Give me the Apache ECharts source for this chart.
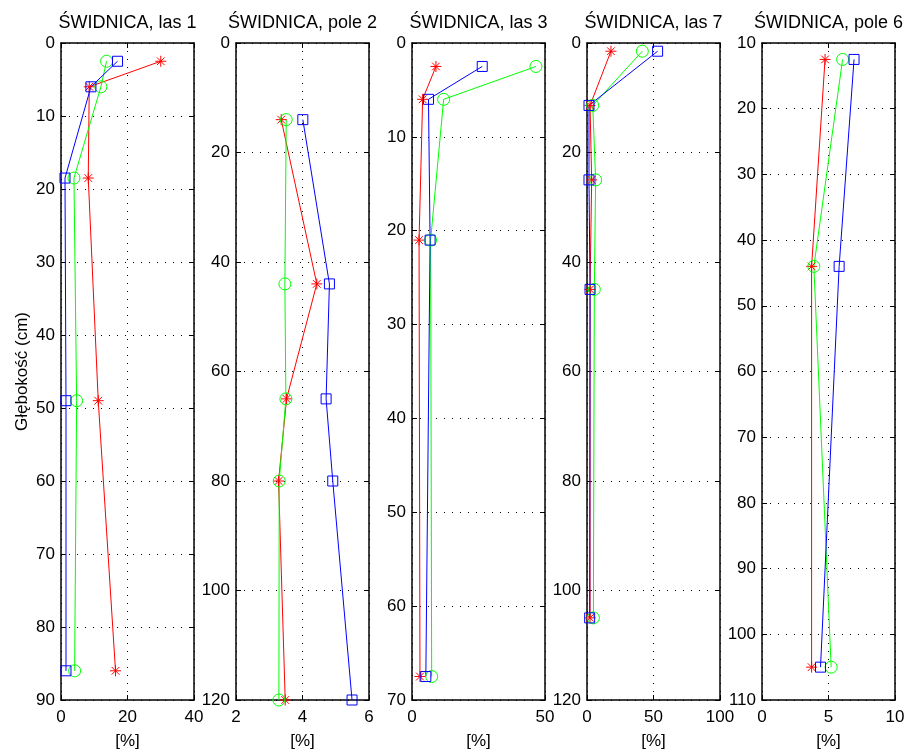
<!DOCTYPE html>
<html>
<head>
<meta charset="utf-8">
<title>Świdnica</title>
<script src="https://cdn.jsdelivr.net/npm/echarts@6/dist/echarts.min.js"></script>
<style>
  html, body { margin: 0; padding: 0; background: #fff; }
  #chart { width: 907px; height: 751px; }
</style>
</head>
<body>
<div id="chart"></div>
<script>
  // panel titles and depth (cm) of each sample
  var titles = ["ŚWIDNICA, las 1", "ŚWIDNICA, pole 2", "ŚWIDNICA, las 3", "ŚWIDNICA, las 7", "ŚWIDNICA, pole 6"];

  var depths1 = [2.5, 6, 18.5, 49, 86];
  var las1Red = [30, 8.5, 8.2, 11.2, 16.4];
  var las1Green = [13.7, 12.0, 3.9, 4.7, 4.1];
  var las1Blue = [17.0, 9.0, 1.2, 1.5, 1.5];

  var depths2 = [14, 44, 65, 80, 120];
  var pole2Red = [3.36, 4.43, 3.52, 3.28, 3.48];
  var pole2Green = [3.51, 3.47, 3.5, 3.3, 3.29];
  var pole2Blue = [4.01, 4.81, 4.71, 4.91, 5.49];

  var depths3 = [2.5, 6, 21, 67.5];
  var las3Red = [9.0, 4.0, 2.65, 3.0];
  var las3Green = [46.6, 11.9, 7.0, 7.4];
  var las3Blue = [26.4, 6.2, 6.8, 5.2];

  var depths4 = [1.5, 11.4, 25, 45, 105];
  var las7Red = [18, 2.3, 3.5, 2.3, 2.3];
  var las7Green = [41.6, 4.3, 6.5, 5.5, 4.8];
  var las7Blue = [53.1, 1.5, 1.5, 2.3, 2.0];

  var depths5 = [12.5, 44, 105];
  var pole6Red = [4.74, 3.73, 3.73];
  var pole6Green = [6.06, 3.9, 5.2];
  var pole6Blue = [6.92, 5.8, 4.4];

  // axis ranges per panel: [xMin, xMax, xStep, yMin, yMax, yStep]
  var ranges = [
    [0, 40, 20, 0, 90, 10],
    [2, 6, 2, 0, 120, 20],
    [0, 50, 50, 0, 70, 10],
    [0, 100, 50, 0, 120, 20],
    [0, 10, 5, 10, 110, 10]
  ];

  var panels = [
    { d: depths1, r: las1Red, g: las1Green, b: las1Blue },
    { d: depths2, r: pole2Red, g: pole2Green, b: pole2Blue },
    { d: depths3, r: las3Red, g: las3Green, b: las3Blue },
    { d: depths4, r: las7Red, g: las7Green, b: las7Blue },
    { d: depths5, r: pole6Red, g: pole6Green, b: pole6Blue }
  ];

  var lefts = [61, 236, 412, 587, 762];
  var plotW = 133, plotTop = 43, plotH = 657;
  var font = "Liberation Sans";
  var asterisk = "path://M0,-1L0,1M-1,0L1,0M-0.7,-0.7L0.7,0.7M-0.7,0.7L0.7,-0.7";
  var boxLine = { color: "#000", width: 1.5 };
  var dotted = { color: "#000", type: [1, 7], width: 1 };

  function pairs(xs, ys) {
    var out = [];
    for (var i = 0; i < xs.length; i++) out.push([xs[i], ys[i]]);
    return out;
  }

  var grid = [], xAxis = [], yAxis = [], series = [], title = [];

  for (var p = 0; p < 5; p++) {
    var rg = ranges[p];
    grid.push({
      left: lefts[p], top: plotTop, width: plotW, height: plotH,
      show: false, containLabel: false, outerBoundsMode: "none"
    });
    title.push({
      text: titles[p],
      left: lefts[p] + plotW / 2,
      top: 14,
      padding: 0,
      textAlign: "center",
      textStyle: { fontFamily: font, fontSize: 18, fontWeight: "normal", color: "#000" }
    });

    // bottom axis with labels
    xAxis.push({
      gridIndex: p, type: "value", position: "bottom",
      min: rg[0], max: rg[1], interval: rg[2],
      name: "[%]", nameLocation: "middle", nameGap: 33,
      nameTextStyle: { fontFamily: font, fontSize: 17, color: "#000" },
      axisLine: { show: true, onZero: false, lineStyle: boxLine },
      axisTick: { show: true, inside: true, length: 5, lineStyle: { color: "#000" } },
      axisLabel: { fontFamily: font, fontSize: 17, color: "#000", margin: 9, hideOverlap: false },
      splitLine: { show: true, lineStyle: dotted }
    });
    // top axis: box edge + ticks only
    xAxis.push({
      gridIndex: p, type: "value", position: "top",
      min: rg[0], max: rg[1], interval: rg[2],
      axisLine: { show: true, onZero: false, lineStyle: boxLine },
      axisTick: { show: true, inside: true, length: 5, lineStyle: { color: "#000" } },
      axisLabel: { show: false },
      splitLine: { show: false }
    });

    // left axis, depth increases downward
    yAxis.push({
      gridIndex: p, type: "value", position: "left", inverse: true,
      min: rg[3], max: rg[4], interval: rg[5],
      name: p === 0 ? "Głębokość (cm)" : "",
      nameLocation: "middle", nameGap: 30,
      nameTextStyle: { fontFamily: font, fontSize: 17, color: "#000" },
      axisLine: { show: true, onZero: false, lineStyle: boxLine },
      axisTick: { show: true, inside: true, length: 5, lineStyle: { color: "#000" } },
      axisLabel: { fontFamily: font, fontSize: 17, color: "#000", margin: 6, hideOverlap: false },
      splitLine: { show: true, lineStyle: dotted }
    });
    // right axis: box edge + ticks only
    yAxis.push({
      gridIndex: p, type: "value", position: "right", inverse: true,
      min: rg[3], max: rg[4], interval: rg[5],
      axisLine: { show: true, onZero: false, lineStyle: boxLine },
      axisTick: { show: true, inside: true, length: 5, lineStyle: { color: "#000" } },
      axisLabel: { show: false },
      splitLine: { show: false }
    });

    var pn = panels[p];
    var defs = [
      { vals: pn.r, color: "#ff0000", symbol: asterisk, size: 11 },
      { vals: pn.g, color: "#00ff00", symbol: "circle", size: 12 },
      { vals: pn.b, color: "#0000ff", symbol: "rect", size: 10 }
    ];
    defs.forEach(function (s) {
      series.push({
        type: "line",
        xAxisIndex: p * 2,
        yAxisIndex: p * 2,
        data: pairs(s.vals, pn.d),
        symbol: s.symbol,
        symbolSize: s.size,
        symbolKeepAspect: true,
        showAllSymbol: true,
        lineStyle: { color: s.color, width: 1 },
        itemStyle: { color: "rgba(0,0,0,0)", borderColor: s.color, borderWidth: 1 },
        emphasis: { disabled: true },
        z: 3
      });
    });
  }

  var chart = echarts.init(document.getElementById("chart"));
  chart.setOption({
    animation: false,
    backgroundColor: "#fff",
    title: title,
    grid: grid,
    xAxis: xAxis,
    yAxis: yAxis,
    series: series
  });
</script>
</body>
</html>
